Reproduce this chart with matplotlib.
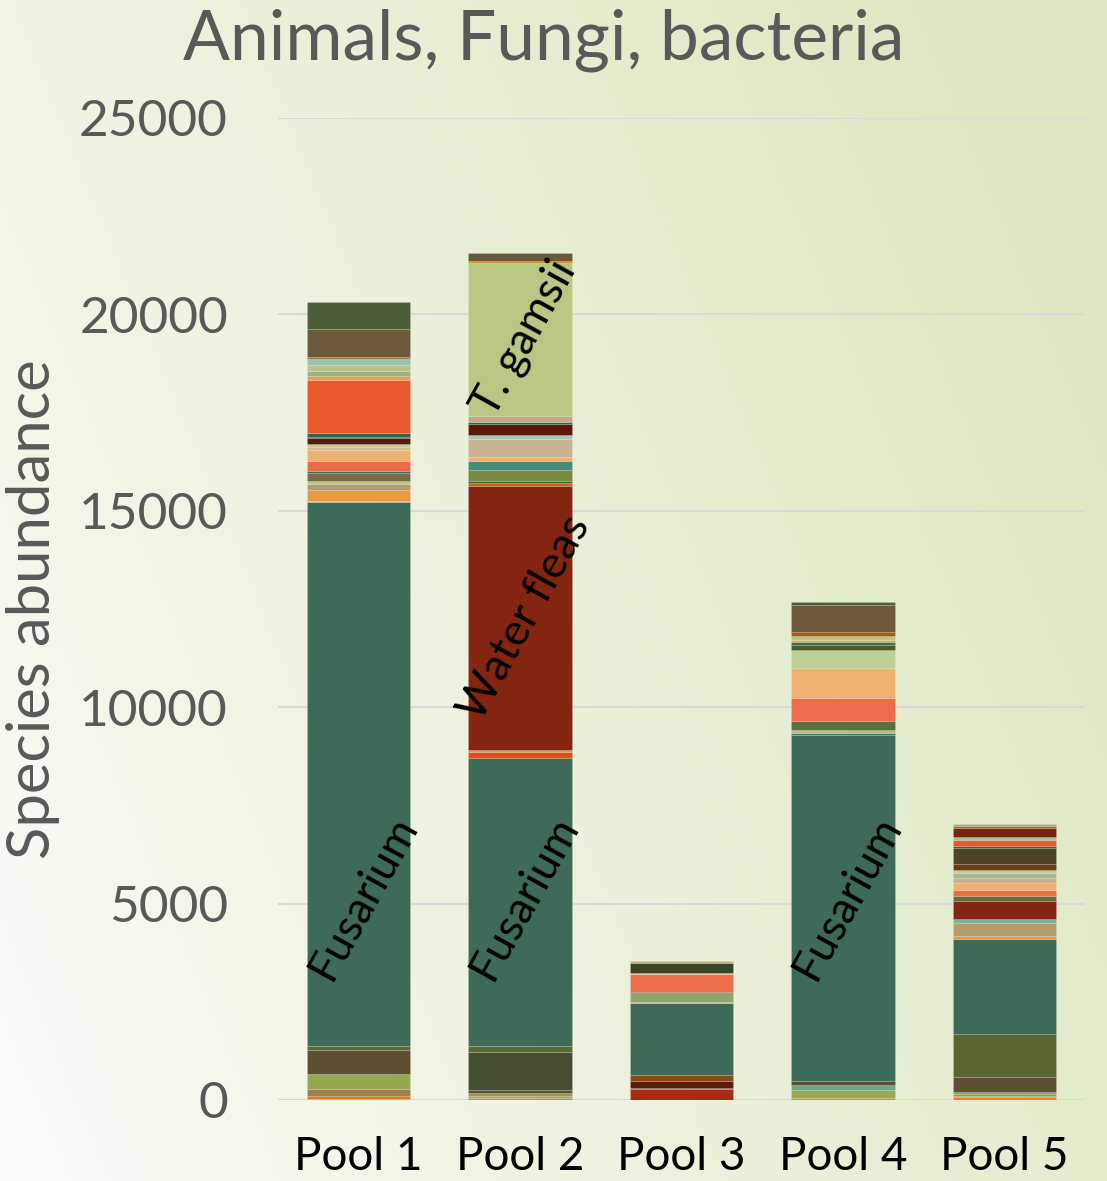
#!/usr/bin/env python3
# -*- coding: utf-8 -*-

"""Stacked species abundance per pool (animals, fungi, bacteria)"""

import numpy as np
import matplotlib
matplotlib.use("Agg")
import matplotlib.pyplot as plt
from matplotlib.colors import LinearSegmentedColormap

plt.rcParams['font.family'] = ['Lato', 'DejaVu Sans']

pools = ["Pool 1", "Pool 2", "Pool 3", "Pool 4", "Pool 5"]

# segment abundances per pool, bottom to top
pool1 = [30, 80, 180, 360, 630, 100, 13850, 30, 280, 130, 100, 200, 50, 250,
         280, 80, 80, 150, 30, 100, 1350, 100, 130, 150, 150, 50, 710, 690]
pool2 = [50, 50, 80, 80, 970, 150, 7330, 150, 50, 6720, 80, 50, 280, 230,
         100, 460, 100, 280, 50, 150, 3910, 40, 200]
pool3 = [280, 25, 180, 150, 1830, 25, 230, 25, 460, 25, 250, 50]
pool4 = [50, 200, 130, 100, 8810, 50, 80, 230, 590, 760, 460, 130, 80, 50,
         100, 100, 690, 80]
pool5 = [80, 25, 50, 50, 380, 1100, 2420, 80, 310, 100, 460, 150, 130, 180,
         130, 130, 80, 150, 410, 50, 150, 80, 230, 50, 50]
values = [pool1, pool2, pool3, pool4, pool5]

# species names written on the big segments: (pool index, segment index, name)
labels = [(0, 6, "Fusarium"), (1, 6, "Fusarium"), (1, 9, "Water fleas"),
          (1, 20, "T. gamsii"), (3, 4, "Fusarium")]

TEAL = "#3d6b57"
colors1 = ["#f0a060", "#e0781a", "#a08050", "#95a84e", "#5e4e32", "#5a6a35",
           TEAL, "#a0b07e", "#e99a3e", "#b69a6e", "#b5c688", "#7a6a42",
           "#3d6b57", "#ec6a48", "#f0b070", "#d8b890", "#c0cc90", "#5a1a0b",
           "#405040", "#2f6450", "#e9582d", "#e8a050", "#a0b07e", "#b5c688",
           "#97c1b0", "#b07840", "#6c5a3a", "#4f5e3a"]
colors2 = ["#e8821e", "#b49c70", "#8a9a50", "#5e4e32", "#444e30", "#5a6a35",
           TEAL, "#e04a1c", "#e09050", "#832510", "#c06818", "#4a5a2a",
           "#7a8a3e", "#4a8a78", "#f0b070", "#c8b494", "#a0ccb8", "#5a1a0b",
           "#2f6450", "#c4a888", "#b8c884", "#e08a30", "#6b5a3a"]
colors3 = ["#a52c10", "#6a7a40", "#5e1a08", "#8a4a10", TEAL, "#c4b08a",
           "#90a470", "#4a5a2a", "#ee6e4a", "#d8c0a0", "#3a4228", "#b8a880"]
colors4 = ["#e8821e", "#9aaa50", "#6aa888", "#5e4e32", TEAL, "#4a7a60",
           "#b0c080", "#5e6e42", "#ee6c4a", "#f0b070", "#bcd096", "#4a5a2a",
           "#3d6b57", "#e8a050", "#b8c880", "#a85a18", "#6c5a3a", "#4f5e3a"]
colors5 = ["#e8821e", "#b49c70", "#8a9a50", "#90a070", "#5e4e32", "#5a6630",
           TEAL, "#e09850", "#b49c70", "#78b498", "#832510", "#5e6e42",
           "#ee6c4a", "#f0b070", "#c8b090", "#a8b890", "#bcd096", "#6c3c10",
           "#4e4228", "#4a5a2a", "#e8582e", "#a0c4a0", "#7a2010", "#a06020",
           "#b0a080"]
colors = [colors1, colors2, colors3, colors4, colors5]

GREY = "#595959"

fig = plt.figure(figsize=(11.07, 11.81), dpi=100)

# soft white-to-green background
bg = fig.add_axes([0, 0, 1, 1], zorder=-10)
bg.axis("off")
xx, yy = np.meshgrid(np.linspace(0, 1, 300), np.linspace(0, 1, 300))
t = np.clip(0.8 * xx + 0.35 * yy - 0.05, 0, 1) ** 0.8
cmap = LinearSegmentedColormap.from_list("bg", ["#fbfbf7", "#eef2de", "#dde8c2"])
bg.imshow(t, cmap=cmap, origin="lower", extent=[0, 1, 0, 1], aspect="auto",
          vmin=0, vmax=1)

ax = fig.add_axes([0.2511, 0.0686, 0.729, 0.8315])
ax.patch.set_alpha(0)

for i, (vals, cols) in enumerate(zip(values, colors)):
    bottom = 0
    for v, c in zip(vals, cols):
        ax.bar(i, v, bottom=bottom, width=0.64, color=c,
               edgecolor=(1, 1, 1, 0.25), linewidth=0.4, zorder=3)
        bottom += v

for p, s, name in labels:
    start = sum(values[p][:s])
    mid = start + values[p][s] / 2
    if name == "Fusarium":
        mid = 5150
    if name == "T. gamsii":
        mid = 19400
    ax.text(p + 0.03, mid, name, rotation=61, ha="center", va="center",
            fontsize=32, color="black", zorder=5)

ax.set_xlim(-0.5, 4.5)
ax.set_ylim(0, 25000)
ax.set_yticks(np.arange(0, 25001, 5000))
ax.set_xticks(range(len(pools)))
ax.set_xticklabels(pools)
ax.tick_params(axis="y", length=0, pad=36, labelsize=37, labelcolor=GREY)
ax.tick_params(axis="x", length=0, pad=26, labelsize=33, labelcolor="black")
ax.grid(True, axis="y", color="#d9d9d9", linewidth=1.5, zorder=0)
for sp in ax.spines.values():
    sp.set_visible(False)

ax.set_ylabel("Species abundance", fontsize=43, color=GREY, labelpad=14)
fig.text(0.491, 0.966, "Animals, Fungi, bacteria", ha="center", va="center",
         fontsize=50, color=GREY)

fig.savefig("out.png", dpi=100)
